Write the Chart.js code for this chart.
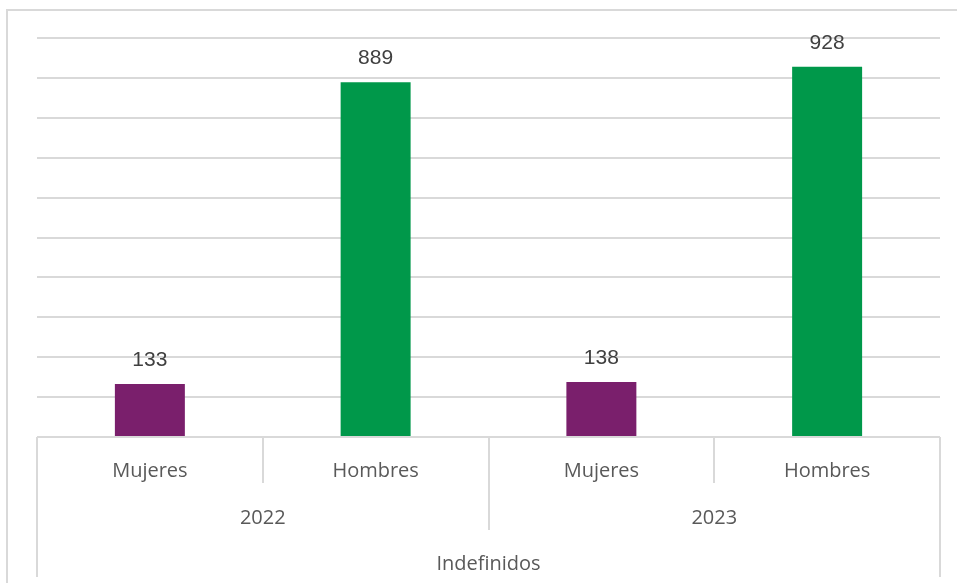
<!DOCTYPE html>
<html><head><meta charset="utf-8">
<script src="https://cdn.jsdelivr.net/npm/chart.js@4"></script>
<style>html,body{margin:0;padding:0;background:#fff;}#wrap{width:957px;height:583px;position:relative;}</style>
</head><body><div id="wrap"><canvas id="c" width="957" height="583"></canvas></div>
<script>
const categories = ['Mujeres', 'Hombres', 'Mujeres', 'Hombres'];
const years = ['2022', '2023'];
const groupLabel = 'Indefinidos';
const values = [133, 889, 138, 928];
const barColors = ['#7a1f6c', '#00984a', '#7a1f6c', '#00984a'];
const yTicks = [0, 100, 200, 300, 400, 500, 600, 700, 800, 900, 1000];

const GRID = '#d9d9d9';
const catFont = '20px "Open Sans", "Liberation Sans", Arial, sans-serif';
const valFont = '21px "Liberation Sans", Arial, sans-serif';

const decor = {
  id: 'decor',
  beforeDraw(chart) {
    const ctx = chart.ctx;
    ctx.save();
    ctx.fillStyle = '#fff';
    ctx.fillRect(0, 0, chart.width, chart.height);
    ctx.strokeStyle = GRID; ctx.lineWidth = 2;
    ctx.beginPath(); ctx.moveTo(7, 583); ctx.lineTo(7, 10); ctx.lineTo(960, 10); ctx.stroke();
    ctx.restore();
  },
  afterDatasetsDraw(chart) {
    const ctx = chart.ctx;
    const x = chart.scales.x;
    const ca = chart.chartArea;
    ctx.save();
    // value labels
    ctx.fillStyle = '#404040';
    ctx.font = valFont;
    ctx.textAlign = 'center'; ctx.textBaseline = 'middle';
    chart.getDatasetMeta(0).data.forEach((bar, i) => {
      ctx.fillText(String(values[i]), bar.x, bar.y - 24);
    });
    // category axis dividers
    const n = categories.length;
    const boundary = i => {
      if (i <= 0) return ca.left;
      if (i >= n) return ca.right;
      return (x.getPixelForValue(i - 1) + x.getPixelForValue(i)) / 2;
    };
    ctx.strokeStyle = GRID; ctx.lineWidth = 2;
    const base = ca.bottom;
    const line = (px, y2) => { ctx.beginPath(); ctx.moveTo(px, base); ctx.lineTo(px, y2); ctx.stroke(); };
    for (let i = 0; i <= n; i++) {
      let y2 = base + 46;
      if (i === 0 || i === n) y2 = base + 140;
      else if (i % 2 === 0) y2 = base + 93;
      line(Math.round(boundary(i)), y2);
    }
    // labels
    ctx.fillStyle = '#595959';
    ctx.font = catFont;
    categories.forEach((c, i) => ctx.fillText(c, x.getPixelForValue(i), base + 34));
    years.forEach((yr, j) => {
      const cx = (x.getPixelForValue(2 * j) + x.getPixelForValue(2 * j + 1)) / 2;
      ctx.fillText(yr, cx, base + 81);
    });
    ctx.fillText(groupLabel, (ca.left + ca.right) / 2, base + 127);
    ctx.restore();
  }
};

new Chart(document.getElementById('c'), {
  type: 'bar',
  data: {
    labels: categories,
    datasets: [{ data: values, backgroundColor: barColors, borderWidth: 0, categoryPercentage: 1, barPercentage: 0.31 }]
  },
  options: {
    responsive: false,
    animation: false,
    devicePixelRatio: 1,
    layout: { padding: { left: 37, right: 17, top: 38, bottom: 146 } },
    plugins: { legend: { display: false }, tooltip: { enabled: false } },
    scales: {
      x: { display: false },
      y: {
        min: 0, max: 1000,
        afterBuildTicks: s => { s.ticks = yTicks.map(v => ({ value: v })); },
        afterFit: s => { s.width = 0; },
        ticks: { display: false },
        border: { display: false },
        grid: { color: GRID, lineWidth: 2, drawTicks: false }
      }
    }
  },
  plugins: [decor]
});
</script></body></html>
